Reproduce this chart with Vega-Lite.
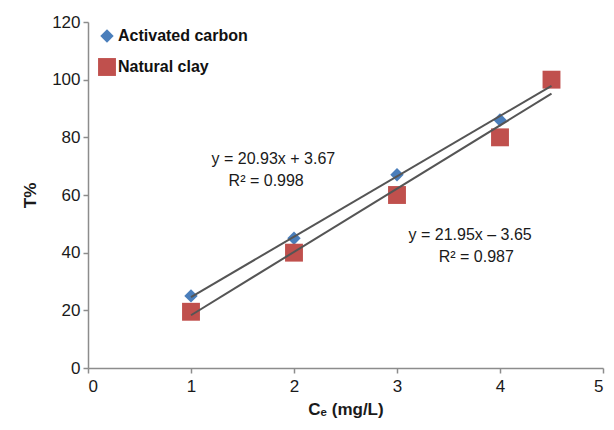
{
  "$schema": "https://vega.github.io/schema/vega-lite/v6.json",
  "width": 515,
  "height": 346,
  "autosize": "none",
  "padding": {"left": 88, "top": 22, "right": 11, "bottom": 62},
  "background": "white",
  "config": {
    "font": "Liberation Sans",
    "view": {"stroke": null},
    "axis": {
      "grid": false,
      "domainColor": "#8c8c8c",
      "domainWidth": 1.5,
      "tickColor": "#8c8c8c",
      "tickWidth": 1.5,
      "tickSize": 5,
      "labelFont": "Liberation Sans",
      "labelFontSize": 17,
      "labelColor": "#1a1a1a",
      "titleFont": "Liberation Sans",
      "titleFontSize": 17,
      "titleFontWeight": "bold",
      "titleColor": "#1a1a1a"
    }
  },
  "datasets": {
    "points": [
      {"series": "Activated carbon", "ce": 1, "t": 25},
      {"series": "Activated carbon", "ce": 2, "t": 45},
      {"series": "Activated carbon", "ce": 3, "t": 67},
      {"series": "Activated carbon", "ce": 4, "t": 86},
      {"series": "Activated carbon", "ce": 4.5, "t": 100},
      {"series": "Natural clay", "ce": 1, "t": 19.5},
      {"series": "Natural clay", "ce": 2, "t": 40},
      {"series": "Natural clay", "ce": 3, "t": 60},
      {"series": "Natural clay", "ce": 4, "t": 80},
      {"series": "Natural clay", "ce": 4.5, "t": 100}
    ],
    "fits": [
      {"series": "Activated carbon", "ce": 1, "t": 24.6},
      {"series": "Activated carbon", "ce": 4.5, "t": 97.85},
      {"series": "Natural clay", "ce": 1, "t": 18.3},
      {"series": "Natural clay", "ce": 4.5, "t": 95.13}
    ],
    "notes": [
      {"label": "y = 20.93x + 3.67", "ce": 1.8, "t": 72.5},
      {"label": "R² = 0.998", "ce": 1.73, "t": 65},
      {"label": "y = 21.95x – 3.65", "ce": 3.71, "t": 46},
      {"label": "R² = 0.987", "ce": 3.77, "t": 38.5}
    ]
  },
  "layer": [
    {
      "data": {"name": "points"},
      "mark": {"type": "point", "filled": true, "opacity": 1},
      "encoding": {
        "x": {
          "field": "ce", "type": "quantitative",
          "scale": {"domain": [0, 5], "nice": false, "zero": true},
          "axis": {"values": [0, 1, 2, 3, 4, 5], "format": "d", "title": "Cₑ (mg/L)", "titlePadding": 7, "labelPadding": 5}
        },
        "y": {
          "field": "t", "type": "quantitative",
          "scale": {"domain": [0, 120], "nice": false},
          "axis": {"values": [0, 20, 40, 60, 80, 100, 120], "format": "d", "title": "T%", "titlePadding": 12, "labelPadding": 3}
        },
        "color": {
          "field": "series", "type": "nominal",
          "scale": {"domain": ["Activated carbon", "Natural clay"], "range": ["#4a7ebb", "#c0504d"]},
          "legend": {
            "orient": "none", "legendX": 10, "legendY": 6, "title": null,
            "labelFont": "Liberation Sans", "labelFontSize": 16, "labelFontWeight": "bold",
            "labelColor": "#111111", "rowPadding": 14, "labelOffset": 2, "symbolStrokeWidth": 0
          }
        },
        "shape": {
          "field": "series", "type": "nominal",
          "scale": {"domain": ["Activated carbon", "Natural clay"], "range": ["diamond", "square"]},
          "legend": null
        },
        "size": {
          "field": "series", "type": "nominal",
          "scale": {"domain": ["Activated carbon", "Natural clay"], "range": [180, 320]},
          "legend": null
        }
      }
    },
    {
      "data": {"name": "fits"},
      "mark": {"type": "line", "color": "#555555", "strokeWidth": 2},
      "encoding": {
        "x": {"field": "ce", "type": "quantitative"},
        "y": {"field": "t", "type": "quantitative"},
        "detail": {"field": "series", "type": "nominal"}
      }
    },
    {
      "data": {"name": "notes"},
      "mark": {"type": "text", "fontSize": 16, "color": "#1a1a1a", "font": "Liberation Sans"},
      "encoding": {
        "x": {"field": "ce", "type": "quantitative"},
        "y": {"field": "t", "type": "quantitative"},
        "text": {"field": "label", "type": "nominal"}
      }
    }
  ]
}
